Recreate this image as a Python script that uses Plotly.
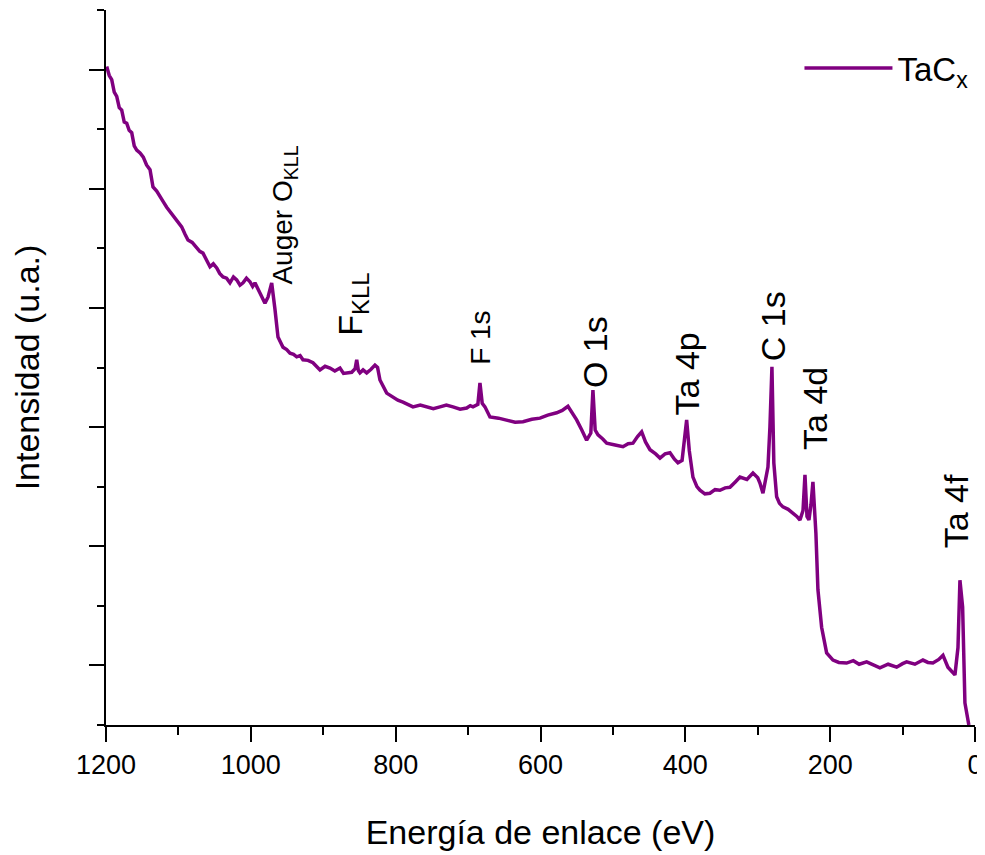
import plotly.graph_objects as go

# Binding energy (eV) and intensity (a.u.)
energy = [1199.0, 1195.5, 1192.1, 1188.6, 1185.2, 1181.7, 1178.3, 1174.8, 1171.4, 1168.0,
          1164.5, 1161.0, 1157.6, 1153.0, 1148.5, 1144.0, 1139.2, 1135.1, 1130.0,
          1125.4, 1120.8, 1116.2, 1111.8, 1107.5, 1101.5, 1095.5, 1091.0, 1086.8, 1081.0, 1074.8, 1070.5, 1066.1, 1061.0, 1056.4, 1051.8, 1047.1, 1043.0, 1038.4,
          1033.5, 1028.8, 1024.0, 1019.5, 1015.0, 1010.8, 1006.0, 1001.2, 997.5, 994.3, 987.4, 980.5, 976.3, 971.2, 966.6,
          962.5, 955.6, 950.5, 945.9, 941.0, 936.7, 932.0, 928.0, 921.0, 914.2, 909.0, 904.5, 897.5, 890.7, 884.0, 876.9, 872.0, 867.6,
          860.7, 856.0, 853.8, 851.5, 849.3, 845.0, 840.0, 834.0, 828.6, 825.0, 821.7, 812.4, 803.7, 797.0, 789.9, 783.0, 776.1,
          766.0, 757.2, 748.0, 738.8, 730.0, 720.9, 711.0, 701.9, 697.0, 693.2, 686.5, 683.6, 680.5, 676.7, 669.8,
          658.0, 646.7, 635.0, 624.2, 612.0, 600.7, 590.0, 577.7, 570.0, 562.1, 550.1, 543.0, 536.3, 530.5, 527.6, 524.5,
          520.6, 514.0, 508.6, 497.0, 486.1, 479.0, 472.3, 466.0, 460.3, 455.0, 448.8, 441.0, 435.0, 428.0, 421.2, 415.0, 410.2, 404.5,
          398.2, 394.5, 389.5, 384.0, 379.8, 373.0, 366.0, 359.0, 352.2, 345.0, 338.4, 331.0, 324.6, 315.0, 306.6, 300.0, 297.0,
          292.8, 287.8, 285.9, 283.2, 280.4, 277.8, 273.9, 270.0, 265.2, 258.0, 251.4, 246.0, 241.7, 237.5,
          234.8, 232.0, 229.3, 226.5, 223.8, 219.7, 216.9, 211.8, 204.9, 196.1, 188.0, 177.3, 168.0, 160.0,
          149.6, 140.0, 131.3, 120.0, 108.2, 100.0, 94.4, 83.0, 71.9, 65.0, 58.1, 50.0, 44.2, 37.4, 27.7, 23.5,
          20.8, 17.1, 13.9, 8.5]
intensity = [11.05, 10.90, 10.83, 10.62, 10.55, 10.36, 10.32, 10.12, 10.10, 9.98,
             9.94, 9.72, 9.65, 9.60, 9.53, 9.40, 9.32, 9.03, 8.96,
             8.86, 8.78, 8.69, 8.62, 8.53, 8.45, 8.36, 8.24, 8.14, 8.10, 8.02, 7.95, 7.92, 7.80, 7.69, 7.74, 7.67, 7.58, 7.52,
             7.50, 7.42, 7.52, 7.47, 7.38, 7.42, 7.50, 7.44, 7.36, 7.42, 7.25, 7.08, 7.18, 7.42, 6.97,
             6.51, 6.34, 6.30, 6.24, 6.22, 6.18, 6.20, 6.13, 6.12, 6.08, 6.02, 5.96, 6.02, 5.99, 5.94, 5.99, 5.90, 5.91,
             5.92, 5.98, 6.13, 5.95, 5.91, 5.96, 5.91, 5.97, 6.04, 6.00, 5.79, 5.57, 5.51, 5.45, 5.42, 5.38, 5.34,
             5.37, 5.34, 5.31, 5.34, 5.37, 5.34, 5.30, 5.32, 5.36, 5.34, 5.38, 5.74, 5.40, 5.34, 5.17,
             5.15, 5.12, 5.08, 5.09, 5.13, 5.15, 5.20, 5.24, 5.28, 5.35, 5.12, 4.95, 4.78, 4.90, 5.62, 4.95,
             4.87, 4.80, 4.73, 4.70, 4.67, 4.72, 4.73, 4.84, 4.92, 4.75, 4.62, 4.55, 4.48, 4.55, 4.57, 4.46, 4.40, 4.44,
             5.12, 4.60, 4.16, 4.00, 3.94, 3.88, 3.89, 3.95, 3.94, 3.98, 3.99, 4.08, 4.16, 4.12, 4.23, 4.15, 4.06,
             3.89, 4.20, 4.33, 5.00, 6.01, 4.40, 3.83, 3.72, 3.66, 3.62, 3.56, 3.50, 3.44, 3.60,
             4.20, 3.50, 3.44, 3.70, 4.08, 3.22, 2.27, 1.64, 1.21, 1.09, 1.05, 1.04, 1.08, 1.02,
             1.06, 1.00, 0.96, 1.02, 0.97, 1.03, 1.06, 1.02, 1.09, 1.05, 1.04, 1.10, 1.17, 0.97, 0.84, 1.30,
             2.43, 1.98, 0.37, 0.0]

series_name = "TaC<sub>x</sub>"

peak_labels = ["Auger O<sub>KLL</sub>", "F<sub>KLL</sub>", "F 1s", "O 1s",
               "Ta 4p", "C 1s", "Ta 4d", "Ta 4f"]
peak_x = [952.8, 859.6, 682.2, 524.8, 396.4, 279.7, 221.0, 27.0]
peak_y = [7.35, 6.50, 6.01, 5.62, 5.17, 6.08, 4.59, 2.94]
peak_size = [28, 34, 28, 34, 34, 34, 34, 34]

x_ticks = [1200, 1000, 800, 600, 400, 200, 0]

FONT = "Liberation Sans, Arial, sans-serif"
PURPLE = "#800080"

fig = go.Figure()
fig.add_trace(go.Scatter(x=energy, y=intensity, mode="lines", name=series_name,
                         line=dict(color=PURPLE, width=3.5)))

for lab, px, py, fs in zip(peak_labels, peak_x, peak_y, peak_size):
    fig.add_annotation(x=px, y=py, text=lab, textangle=-90, showarrow=False,
                       xanchor="center", yanchor="bottom",
                       font=dict(family=FONT, size=fs, color="black"))

fig.update_layout(
    width=985, height=855,
    margin=dict(l=98, r=18, t=2, b=138),
    paper_bgcolor="white", plot_bgcolor="white",
    font=dict(family=FONT, color="black"),
    showlegend=True,
    legend=dict(x=0.798, y=0.958, xanchor="left", yanchor="top",
                bgcolor="rgba(0,0,0,0)", font=dict(family=FONT, size=33),
                itemwidth=88),
    xaxis=dict(range=[1200, 0], tickvals=x_ticks, ticks="outside", ticklen=15,
               tickwidth=2, tickcolor="black", showline=True, linewidth=2,
               linecolor="black", showgrid=False, zeroline=False, automargin=False,
               tickfont=dict(family=FONT, size=27),
               minor=dict(dtick=100, ticks="outside", ticklen=8, tickwidth=2,
                          tickcolor="black", showgrid=False),
               title=dict(text="Energía de enlace (eV)", standoff=41,
                          font=dict(family=FONT, size=34))),
    yaxis=dict(range=[0, 12], tickmode="linear", tick0=1, dtick=2,
               showticklabels=False, ticks="outside", ticklen=15, tickwidth=2,
               tickcolor="black", showline=True, linewidth=2, linecolor="black",
               showgrid=False, zeroline=False, automargin=False,
               minor=dict(dtick=1, tick0=0, ticks="outside", ticklen=7,
                          tickwidth=2, tickcolor="black", showgrid=False),
               title=dict(text="Intensidad (u.a.)", standoff=40,
                          font=dict(family=FONT, size=34))),
)

fig.write_html("out.html")
